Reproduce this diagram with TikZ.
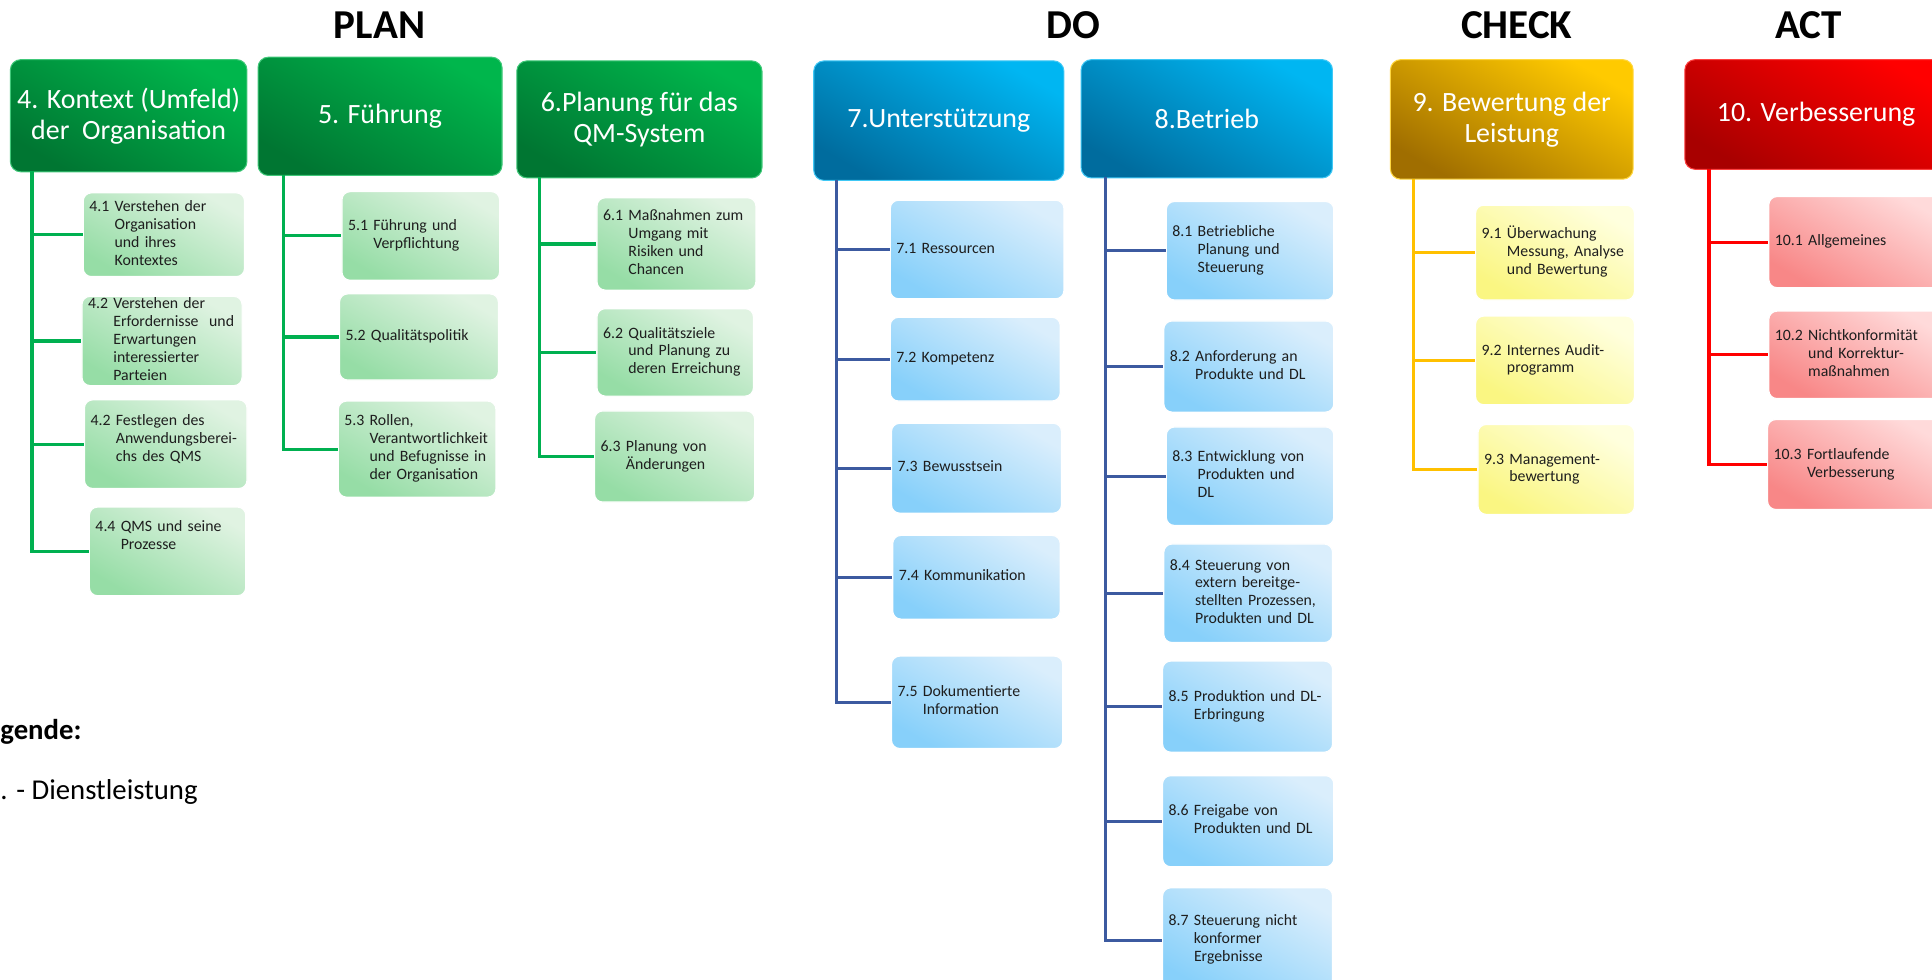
\documentclass[tikz,border=0pt]{standalone}
\usepackage{fontspec}
\setmainfont{Carlito}

\definecolor{gtop}{RGB}{0,182,76}
\definecolor{gbot}{RGB}{0,118,50}
\definecolor{gktop}{RGB}{224,243,226}
\definecolor{gkbot}{RGB}{150,221,166}
\definecolor{gline}{RGB}{0,176,80}
\definecolor{btop}{RGB}{0,182,242}
\definecolor{bbot}{RGB}{0,108,158}
\definecolor{bktop}{RGB}{218,238,252}
\definecolor{bkbot}{RGB}{135,208,250}
\definecolor{bline}{RGB}{60,90,160}
\definecolor{ytop}{RGB}{255,202,0}
\definecolor{ybot}{RGB}{160,110,0}
\definecolor{yktop}{RGB}{255,255,222}
\definecolor{ykbot}{RGB}{250,246,130}
\definecolor{yline}{RGB}{255,192,0}
\definecolor{rtop}{RGB}{255,0,0}
\definecolor{rbot}{RGB}{168,0,0}
\definecolor{rktop}{RGB}{255,218,218}
\definecolor{rkbot}{RGB}{248,135,135}
\definecolor{rline}{RGB}{255,0,0}
\definecolor{kidtext}{RGB}{30,30,30}

\tikzset{
  head/.style={anchor=north west, rounded corners=5pt, top color=#1top,
    bottom color=#1bot, shading angle=-30, draw=#1top!75!white,
    line width=0.5pt, text=white, align=center, inner sep=0pt,
    font=\fontsize{13.6}{15.1}\selectfont},
  kid/.style={anchor=north west, rounded corners=4pt, top color=#1ktop,
    bottom color=#1kbot, shading angle=-30, draw=white, line width=0.6pt,
    text=kidtext, inner xsep=3pt, inner ysep=0pt, align=left,
    font=\fontsize{7.7}{8.7}\selectfont},
  link/.style={draw=#1line, line width=1.5pt},
  phase/.style={anchor=base, inner sep=0pt, font=\fontsize{20}{24}\selectfont\bfseries},
  legend/.style={anchor=base west, inner sep=0pt, font=\fontsize{14}{17}\selectfont}
}

% header box: name, colour, x, y, width, height, text
\newcommand\phasehead[7]{%
  \pgfmathsetlengthmacro\headw{#5*0.6pt}%
  \pgfmathsetlengthmacro\headh{#6*0.6pt}%
  \node[head=#2, minimum width=\headw, minimum height=\headh] (#1) at (#3,#4) {#7};}

% sub box: name, colour, x, y, width, height, number, text
\newcommand\kidbox[8]{%
  \pgfmathsetlengthmacro\kidw{#5*0.6pt}%
  \pgfmathsetlengthmacro\kidh{#6*0.6pt}%
  \pgfmathsetlengthmacro\kidt{#5*0.6pt-6pt}%
  \node[kid=#2, minimum width=\kidw, minimum height=\kidh, text width=\kidt] (#1) at (#3,#4)
    {\begin{tabular}{@{}l@{ }l@{}}#7&\begin{tabular}[t]{@{}l@{}}#8\end{tabular}\end{tabular}};}

\begin{document}
\begin{tikzpicture}[x=0.6pt, y=-0.6pt]
\useasboundingbox (0,0) rectangle (1568,794.6);
\fill[white] (0,0) rectangle (1568,794.6);

% phases
\node[phase] (plan) at (308,31) {PLAN};
\node[phase] (do) at (871,31) {DO};
\node[phase] (check) at (1231,31) {CHECK};
\node[phase] (act) at (1468,31) {ACT};

% PLAN
\phasehead{h4}{g}{8}{48}{192}{91}{4. Kontext (Umfeld)\\der~~Organisation}
\phasehead{h5}{g}{209}{46}{198}{96}{5. Führung}
\phasehead{h6}{g}{419}{49}{199}{95}{6.Planung für das\\QM-System}

\kidbox{c41}{g}{67}{156}{131}{68}{4.1}{Verstehen der\\Organisation\\und ihres\\Kontextes}
\kidbox{c42}{g}{66}{240}{130}{71}{4.2}{Verstehen der\\Erfordernisse~ und\\Erwartungen\\interessierter\\Parteien}
\kidbox{c43}{g}{68}{324}{132}{72}{4.2}{Festlegen des\\Anwendungsberei-\\chs des QMS\\[4pt]}
\kidbox{c44}{g}{72}{411}{127}{72}{4.4}{QMS und seine\\Prozesse\\[14pt]}

\kidbox{c51}{g}{277}{155}{128}{72}{5.1}{Führung und\\Verpflichtung}
\kidbox{c52}{g}{275}{238}{129}{70}{5.2}{Qualitätspolitik}
\kidbox{c53}{g}{274}{325}{128}{78}{5.3}{Rollen,\\Verantwortlichkeit\\und Befugnisse in\\der Organisation}

\kidbox{c61}{g}{484}{160}{129}{75}{6.1}{Maßnahmen zum\\Umgang mit\\Risiken und\\Chancen}
\kidbox{c62}{g}{484}{250}{127}{71}{6.2}{Qualitätsziele\\und Planung zu\\deren Erreichung}
\kidbox{c63}{g}{482}{333}{130}{74}{6.3}{Planung von\\Änderungen}

% DO
\phasehead{h7}{b}{660}{49}{203}{97}{7.Unterstützung}
\phasehead{h8}{b}{877}{48}{204}{96}{8.Betrieb}

\kidbox{c71}{b}{722}{162}{141}{80}{7.1}{Ressourcen}
\kidbox{c72}{b}{722}{257}{138}{68}{7.2}{Kompetenz}
\kidbox{c73}{b}{723}{343}{138}{73}{7.3}{Bewusstsein}
\kidbox{c74}{b}{724}{434}{136}{68}{7.4}{Kommunikation}
\kidbox{c75}{b}{723}{532}{139}{75}{7.5}{Dokumentierte\\Information}

\kidbox{c81}{b}{946}{163}{136}{80}{8.1}{Betriebliche\\Planung und\\Steuerung}
\kidbox{c82}{b}{944}{260}{138}{74}{8.2}{Anforderung an\\Produkte und DL}
\kidbox{c83}{b}{946}{346}{136}{80}{8.3}{Entwicklung von\\Produkten und\\DL}
\kidbox{c84}{b}{944}{441}{137}{80}{8.4}{Steuerung von\\extern bereitge-\\stellten Prozessen,\\Produkten und DL}
\kidbox{c85}{b}{943}{536}{138}{74}{8.5}{Produktion und DL-\\Erbringung}
\kidbox{c86}{b}{943}{629}{139}{74}{8.6}{Freigabe von\\Produkten und DL}
\kidbox{c87}{b}{943}{720}{138}{85}{8.7}{Steuerung nicht\\konformer\\Ergebnisse}

% CHECK
\phasehead{h9}{y}{1128}{48}{197}{97}{9. Bewertung der\\Leistung}

\kidbox{c91}{y}{1197}{166}{129}{77}{9.1}{Überwachung\\Messung, Analyse\\und Bewertung}
\kidbox{c92}{y}{1197}{256}{129}{72}{9.2}{Internes Audit-\\programm}
\kidbox{c93}{y}{1199}{344}{127}{73}{9.3}{Management-\\bewertung}

% ACT
\phasehead{h10}{r}{1367}{48}{213}{89}{10. Verbesserung}

\kidbox{c101}{r}{1435}{159}{145}{74}{10.1}{Allgemeines}
\kidbox{c102}{r}{1435}{252}{145}{71}{10.2}{Nichtkonformität\\und Korrektur-\\maßnahmen}
\kidbox{c103}{r}{1434}{340}{146}{73}{10.3}{Fortlaufende\\Verbesserung}

% trunks
\coordinate (t4) at (26,139);
\coordinate (t5) at (230,142);
\coordinate (t6) at (438,144);
\coordinate (t7) at (679,146);
\coordinate (t8) at (897,144);
\coordinate (t9) at (1147,145);
\coordinate (t10) at (1387,137);

\draw[link=g] (t4) |- (c41.west) (t4) |- (c42.west) (t4) |- (c43.west) (t4) |- (c44.west);
\draw[link=g] (t5) |- (c51.west) (t5) |- (c52.west) (t5) |- (c53.west);
\draw[link=g] (t6) |- (c61.west) (t6) |- (c62.west) (t6) |- (c63.west);
\draw[link=b] (t7) |- (c71.west) (t7) |- (c72.west) (t7) |- (c73.west)
              (t7) |- (c74.west) (t7) |- (c75.west);
\draw[link=b] (t8) |- (c81.west) (t8) |- (c82.west) (t8) |- (c83.west) (t8) |- (c84.west)
              (t8) |- (c85.west) (t8) |- (c86.west) (t8) |- (c87.west);
\draw[link=y] (t9) |- (c91.west) (t9) |- (c92.west) (t9) |- (c93.west);
\draw[link=r] (t10) |- (c101.west) (t10) |- (c102.west) (t10) |- (c103.west);

% legend
\node[legend, font=\fontsize{14}{17}\selectfont\bfseries] (leg) at (0,600) {gende:};
\node[legend] (dl) at (0,649) {. - Dienstleistung};
\end{tikzpicture}
\end{document}
